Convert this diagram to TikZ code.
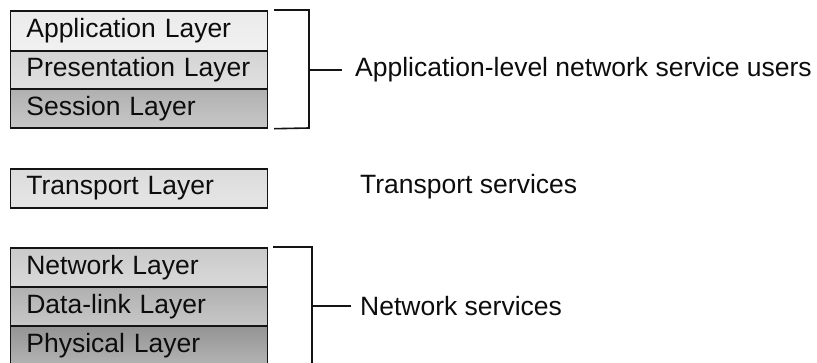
\documentclass[tikz,border=0pt]{standalone}
\usepackage{fontspec}
\setmainfont{Liberation Sans}
% fills of the layer boxes
\colorlet{appfill}{black!8}
\colorlet{presfill}{black!17}
\colorlet{sessfill}{black!31}
\colorlet{transfill}{black!14}
\colorlet{netfill}{black!21}
\colorlet{dlfill}{black!31}
\colorlet{physfill}{black!42}
\begin{document}
\begin{tikzpicture}[x=1pt,y=-1pt,
  layer/.style={draw=black!92, line width=1.7pt, minimum width=257pt, text width=225pt,
    inner xsep=16pt, inner ysep=0pt, align=left, anchor=north west,
    font=\fontsize{26.5}{29}\selectfont, text=black!95},
  shadegray/.style={top color=#1, bottom color=#1!70!white},
  bracket/.style={draw=black!92, line width=1.6pt},
  svc/.style={anchor=west, inner sep=0pt, font=\fontsize{26.5}{29}\selectfont, text=black!95}]
% page and background
\useasboundingbox (0,0) rectangle (817,362);
\fill[white!97!green!2] (0,0) rectangle (817,362);

% upper-layer stack
\node[layer, shadegray=appfill,  minimum height=40pt] (app)  at (9.5,10)  {Application Layer};
\node[layer, shadegray=presfill, minimum height=38pt] (pres) at (9.5,50)  {Presentation Layer};
\node[layer, shadegray=sessfill, minimum height=39pt] (sess) at (9.5,88)  {Session Layer};

% transport layer
\node[layer, shadegray=transfill, minimum height=39pt] (trans) at (9.5,168) {Transport Layer};

% lower-layer stack
\node[layer, shadegray=netfill,  minimum height=39pt] (net)  at (9.5,247) {Network Layer};
\node[layer, shadegray=dlfill,   minimum height=39pt] (dl)   at (9.5,286) {Data-link Layer};
\node[layer, shadegray=physfill, minimum height=40pt] (phys) at (9.5,325) {Physical Layer};

% service labels
\node[svc] (users) at (355,70)  {Application-level network service users};
\node[svc] (tsvc)  at (360,187) {Transport services};
\node[svc] (nsvc)  at (360,306) {Network services};

% bracket round the upper layers
\coordinate (b1top) at ([xshift=6pt]app.north east);
\coordinate (b1bot) at ([xshift=6pt]sess.south east);
\coordinate (b1m)   at (309,70);
\draw[bracket] (b1top) -| (309,128) -- (b1bot);
\draw[bracket] (b1m) -- ([xshift=-13pt]users.west);

% bracket round the lower layers
\coordinate (b2top) at ([xshift=5pt]net.north east);
\coordinate (b2m)   at (312,306);
\draw[bracket] (b2top) -| (312,366) -- (272,366);
\draw[bracket] (b2m) -- ([xshift=-9pt]nsvc.west);
\end{tikzpicture}
\end{document}
